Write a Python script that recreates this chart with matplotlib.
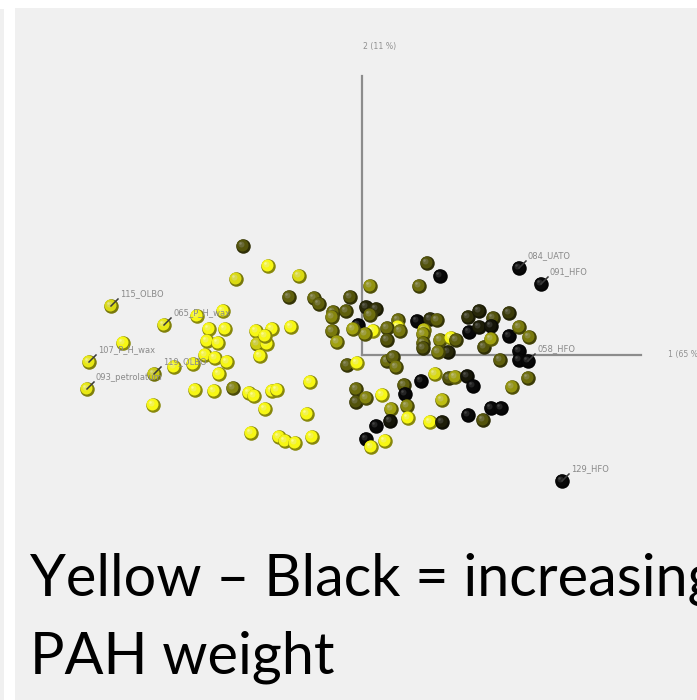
import numpy as np
import matplotlib
matplotlib.use('Agg')
import matplotlib.pyplot as plt
from matplotlib.patches import Rectangle

# PCA scores (component 1, component 2) and PAH weight (0 = yellow, 1 = black)
pc1 = [-1.19, -0.94, -1.26, -0.63, -2.51, -0.73, -0.48, -0.43, -0.12, -0.29,
       -0.16, -0.30, -0.04, -1.98, -1.65, -1.39, -1.53, -1.37, -1.06, -0.90,
       -0.71, -1.55, -1.44, -1.05, -0.95, -2.39, -1.02, -1.57, -1.47, -1.35,
       -0.30, -0.25, -2.73, -1.88, -1.69, -2.08, -1.43, -0.15, -0.05, -2.75,
       -1.67, -1.48, -1.29, -1.13, -1.08, -0.90, -0.85, -0.52, -0.06, -0.06,
       -2.09, -0.97, -0.55, -1.11, -0.83, -0.77, -0.67, -0.50, -0.97,
       0.65, 0.78, 0.57, 1.57, 1.79, 0.08, 0.04, 0.14, 0.08, 0.11,
       0.03, -0.09, 0.36, 0.36, 0.25, 0.38, 0.25, 0.55, 0.68, 0.75,
       0.62, 0.61, 0.61, 0.61, 0.78, 0.89, 0.94, 0.86, 0.76, 1.06,
       1.17, 1.31, 1.47, 1.07, 1.17, 1.29, 1.22, 1.29, 1.47, 1.57,
       1.67, 1.57, 1.38, 1.57, 1.66, 0.25, 0.31, 0.34, 0.73, 0.87,
       0.93, 1.05, 1.11, 0.59, 0.42, 0.43, 1.50, 1.66, 0.04, 0.20,
       0.29, 0.45, 0.46, 0.80, 0.68, 0.80, 0.28, 0.14, 1.06, 1.21,
       1.29, 1.39, 0.04, 0.23, 0.09, 2.00]
pc2 = [1.09, 0.89, 0.76, 0.79, 0.49, 0.58, 0.57, 0.51, 0.58, 0.43,
       0.44, 0.38, 0.30, 0.30, 0.39, 0.44, 0.26, 0.26, 0.24, 0.26,
       0.28, 0.14, 0.12, 0.11, 0.11, 0.12, -0.01, 0.00, -0.03, -0.07,
       0.24, 0.13, -0.07, -0.12, -0.09, -0.19, -0.19, -0.10, -0.08, -0.34,
       -0.35, -0.36, -0.33, -0.38, -0.41, -0.36, -0.35, -0.27, -0.34, -0.47,
       -0.50, -0.54, -0.59, -0.78, -0.82, -0.86, -0.88, -0.82, 0.19,
       0.92, 0.79, 0.69, 0.87, 0.71, 0.69, 0.48, 0.46, 0.40, 0.24,
       0.21, 0.26, 0.35, 0.28, 0.27, 0.24, 0.15, 0.34, 0.36, 0.35,
       0.25, 0.21, 0.12, 0.07, 0.15, 0.17, 0.15, 0.03, 0.03, 0.38,
       0.44, 0.37, 0.42, 0.23, 0.28, 0.29, 0.08, 0.16, 0.19, 0.28,
       0.18, 0.04, -0.05, -0.05, -0.06, -0.06, -0.02, -0.12, -0.19, -0.23,
       -0.22, -0.21, -0.31, -0.26, -0.30, -0.39, -0.32, -0.23, -0.43, -0.40,
       -0.54, -0.51, -0.63, -0.45, -0.67, -0.67, -0.66, -0.71, -0.60, -0.65,
       -0.53, -0.53, -0.84, -0.86, -0.92, -1.26]
pah = [0.6, 0.0, 0.1, 0.1, 0.1, 0.55, 0.5, 0.55, 0.6, 0.5,
       0.55, 0.4, 1.0, 0.05, 0.0, 0.0, 0.0, 0.0, 0.0, 0.0,
       0.0, 0.0, 0.0, 0.15, 0.0, 0.0, 0.0, 0.0, 0.0, 0.0,
       0.45, 0.3, 0.05, 0.0, 0.0, 0.15, 0.0, 0.55, 0.0, 0.05,
       0.0, 0.0, 0.4, 0.0, 0.0, 0.0, 0.0, 0.0, 0.5, 0.6,
       0.0, 0.0, 0.0, 0.0, 0.0, 0.0, 0.0, 0.0, 0.0,
       0.6, 1.0, 0.5, 1.0, 1.0, 0.35, 0.8, 0.75, 0.5, 0.0,
       0.35, 0.3, 0.5, 0.0, 0.5, 0.45, 0.6, 1.0, 0.75, 0.55,
       0.2, 0.35, 0.5, 0.6, 0.4, 0.0, 0.55, 0.8, 0.45, 0.75,
       0.8, 0.6, 0.7, 1.0, 0.85, 0.9, 0.6, 0.3, 1.0, 0.45,
       0.45, 1.0, 0.55, 1.0, 1.0, 0.5, 0.55, 0.45, 0.1, 0.6,
       0.3, 0.9, 1.0, 1.0, 0.55, 1.0, 0.35, 0.5, 0.4, 0.0,
       0.3, 0.4, 0.0, 0.2, 0.0, 0.85, 0.9, 1.0, 1.0, 0.6,
       1.0, 1.0, 1.0, 0.0, 0.0, 1.0]

# labelled samples: index into the arrays above
label_idx = [4, 13, 32, 35, 39, 62, 63, 103, 134]
label_txt = ['115_OLBO', '065_P_H_wax', '107_P_H_wax', '119_OLBO', '093_petrolatum',
             '084_UATO', '091_HFO', '058_HFO', '129_HFO']

axis_len = 2.79
axis_titles = ['1 (65 %)', '2 (11 %)']

W, H = 697, 700
fig = plt.figure(figsize=(W / 100, H / 100), dpi=100, facecolor='white')

# grey slide panel
fig.patches.append(Rectangle((15 / W, 0), 1, 1 - 8 / H, transform=fig.transFigure,
                             facecolor='#f0f0f0', edgecolor='none', zorder=-5))
fig.patches.append(Rectangle((0, 0), 4 / W, 1 - 9 / H, transform=fig.transFigure,
                             facecolor='#f0f0f0', edgecolor='none', zorder=-5))

ax = fig.add_axes([0, 0, 1, 1])
ax.set_facecolor('none')
ax.set_zorder(1)
ax.set_xlim(-3.62, 3.35)
ax.set_ylim(-3.45, 3.55)
ax.axis('off')

# axes of the score plot
ax.plot([0, axis_len], [0, 0], color='#8c8c8c', lw=1.6, zorder=1)
ax.plot([0, 0], [0, axis_len], color='#8c8c8c', lw=1.6, zorder=1)
ax.text(axis_len + 0.27, 0, axis_titles[0], fontsize=5.6, color='#909090', va='center', ha='left')
ax.text(0.18, axis_len + 0.29, axis_titles[1], fontsize=5.6, color='#909090', va='center', ha='center')

yellow = np.array([0.97, 0.97, 0.08])
white = np.array([1.0, 1.0, 1.0])


def msize(px):
    return (px * 0.72) ** 2


z = 2
for x, y, w in zip(pc1, pc2, pah):
    base = yellow * (1 - w) ** 1.25 + 0.03 * w
    ax.scatter(x, y, s=msize(14.5), color=base * 0.55, lw=0, zorder=z)
    ax.scatter(x - 0.008, y + 0.008, s=msize(12), color=base, lw=0, zorder=z + 0.1)
    ax.scatter(x - 0.02, y + 0.02, s=msize(6), color=0.7 * base + 0.3 * white * (0.9 - 0.5 * w),
               lw=0, zorder=z + 0.2)
    ax.scatter(x - 0.03, y + 0.03, s=msize(2.5), color=0.5 * base + 0.5 * white * (1 - 0.5 * w),
               lw=0, zorder=z + 0.3)
    z += 0.5

for i, t in zip(label_idx, label_txt):
    x, y = pc1[i], pc2[i]
    ax.plot([x, x + 0.07], [y, y + 0.07], color='#3a3a3a', lw=1.1, zorder=z + 1)
    ax.text(x + 0.09, y + 0.12, t, fontsize=6, color='#8a8a8a', ha='left', va='center',
            zorder=z + 1)

fig.text(30 / W, 1 - 595 / H, 'Yellow \u2013 Black = increasing', fontsize=41.5,
         family='Lato', color='black', va='baseline', ha='left')
fig.text(30 / W, 1 - 673 / H, 'PAH weight', fontsize=41.5,
         family='Lato', color='black', va='baseline', ha='left')

fig.savefig('out.png', dpi=100, facecolor='white')
